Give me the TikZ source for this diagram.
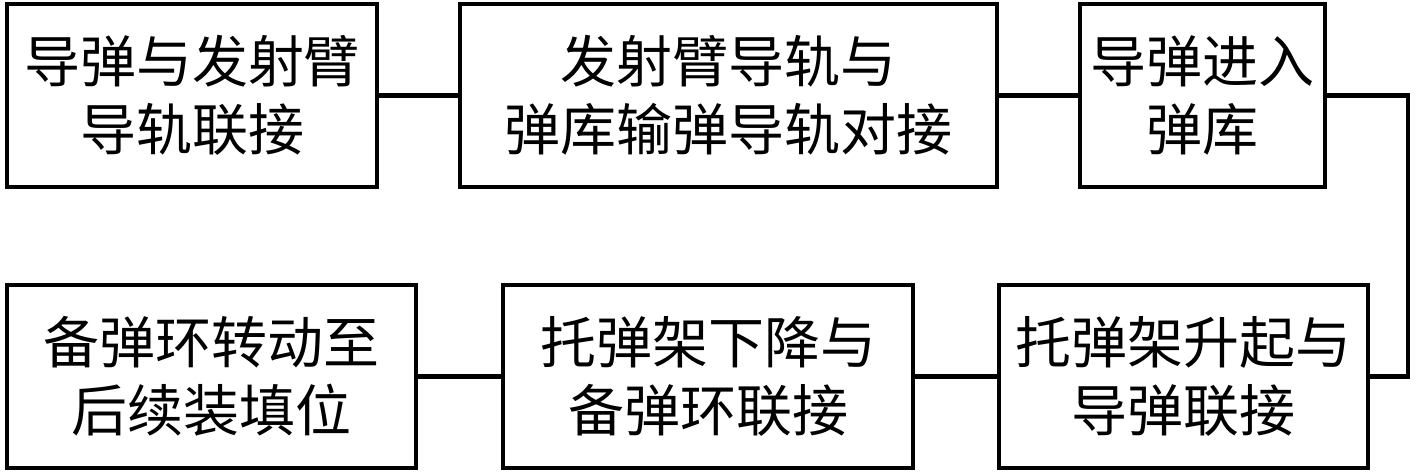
\documentclass[tikz,border=0pt]{standalone}
\usepackage{fontspec}
\newfontfamily\cjk{Noto Sans CJK SC}
\usepackage{tikz}
\usetikzlibrary{positioning}
\tikzset{
  stage/.style={rectangle,draw=black,line width=4.5pt,inner sep=0pt,
    minimum height=183pt,align=center,
    font=\cjk\fontsize{56}{68}\selectfont},
  link/.style={line width=4.5pt,black}
}

\begin{document}
\begin{tikzpicture}[x=1pt,y=-1pt]
  \useasboundingbox (0,0) rectangle (1417,472);
  \node[stage,minimum width=370pt] (s1) at (192,95.5) {导弹与发射臂\\导轨联接};
  \node[stage,minimum width=537pt] (s2) at (728.5,95.5) {发射臂导轨与\\弹库输弹导轨对接};
  \node[stage,minimum width=245pt] (s3) at (1202.5,95.5) {导弹进入\\弹库};
  \node[stage,minimum width=369pt] (s4) at (1183.5,376.5) {托弹架升起与\\导弹联接};
  \node[stage,minimum width=410pt] (s5) at (708,376.5) {托弹架下降与\\备弹环联接};
  \node[stage,minimum width=409pt] (s6) at (211.5,376.5) {备弹环转动至\\后续装填位};
  \coordinate (turn) at (1408,376.5);
  \draw[link] (s1) -- (s2);
  \draw[link] (s2) -- (s3);
  \draw[link] (s3.east) -| (turn) -- (s4.east);
  \draw[link] (s4) -- (s5);
  \draw[link] (s5) -- (s6);
\end{tikzpicture}
\end{document}
